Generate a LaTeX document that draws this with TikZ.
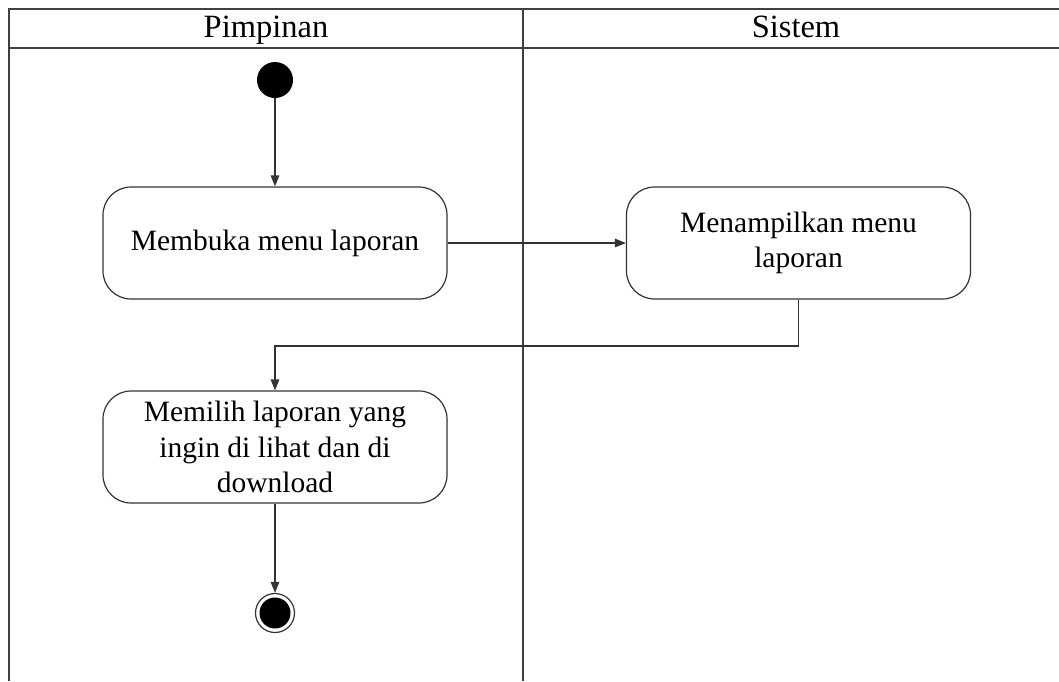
\documentclass[tikz,border=0pt]{standalone}
\usepackage{fontspec}
\setmainfont{Liberation Serif}
\usetikzlibrary{arrows.meta}
\begin{document}
\begin{tikzpicture}[x=1pt,y=-1pt,
  lane/.style={draw=black!75, line width=1.3pt},
  actbox/.style={draw=black!80, line width=1.2pt, rectangle, rounded corners=28pt,
    minimum width=344pt, minimum height=112pt, align=center, inner sep=0pt,
    font=\fontsize{29.5}{35.5}\selectfont},
  lanetitle/.style={anchor=base, font=\fontsize{32.5}{39}\selectfont},
  flow/.style={draw=black!80, line width=1.2pt, -{Triangle[length=11pt,width=8.5pt]}},
  startdot/.style={circle, fill=black, minimum size=36pt, inner sep=0pt},
  enddot/.style={circle, draw=black!80, line width=1.2pt, fill=white, minimum size=39pt, inner sep=0pt}]
\useasboundingbox (0,0) rectangle (1059,681);
\fill[white] (0,0) rectangle (1059,681);

% swimlane frame
\draw[lane] (9,681) -- (9,9) -- (1059,9);
\draw[lane] (9,48) -- (1059,48);
\draw[lane] (523,9) -- (523,681);
\node[lanetitle] (pimpinan) at (266,37) {Pimpinan};
\node[lanetitle] (sistem) at (796,37) {Sistem};

% activities
\node[startdot] (start) at (275,80) {};
\node[actbox] (buka) at (275,243) {Membuka menu laporan};
\node[actbox] (tampil) at (798.5,243) {Menampilkan menu\\laporan};
\node[actbox] (pilih) at (275,447) {Memilih laporan yang\\ingin di lihat dan di\\download};
\node[enddot] (end) at (275,613) {};
\fill (end) circle (15.5pt);

% control flow
\draw[flow] (start) -- (buka);
\draw[flow] (buka) -- (tampil);
\draw[flow] (tampil.south) |- (275,346) -- (pilih.north);
\draw[flow] (pilih) -- (end);
\end{tikzpicture}
\end{document}
